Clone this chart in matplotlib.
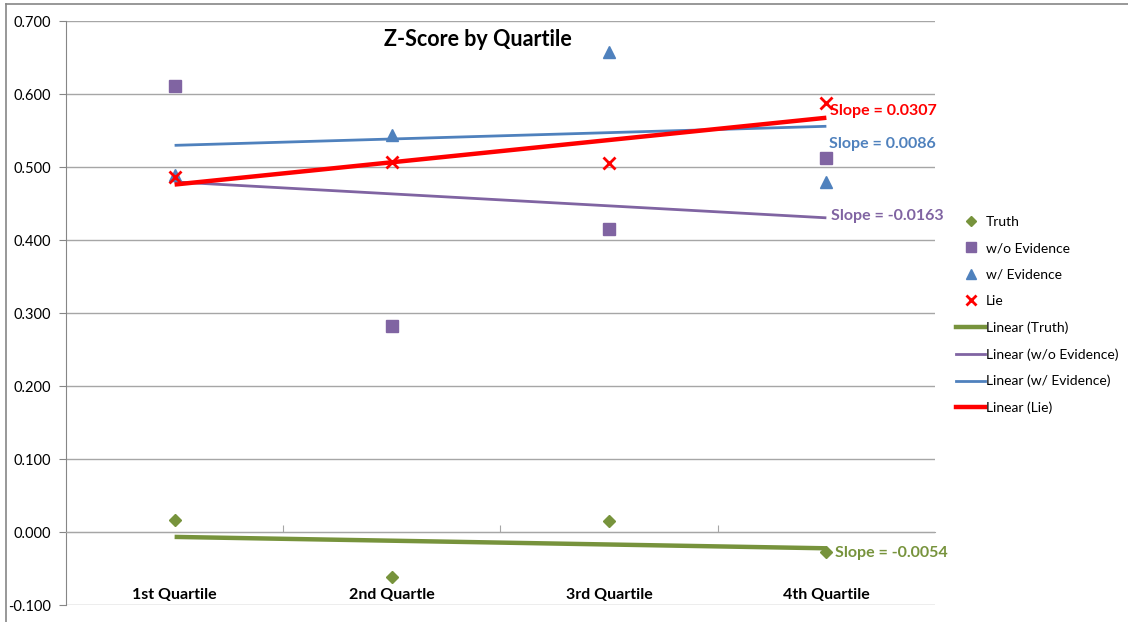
import numpy as np
import matplotlib
matplotlib.use("Agg")
import matplotlib.pyplot as plt
from matplotlib.lines import Line2D

plt.rcParams['font.family'] = ['Lato', 'DejaVu Sans']

# values
quartiles = ['1st Quartile', '2nd Quartle', '3rd Quartile', '4th Quartile']
truth = [0.016, -0.062, 0.015, -0.027]
wo_evidence = [0.611, 0.282, 0.415, 0.512]
w_evidence = [0.489, 0.544, 0.658, 0.480]
lie = [0.486, 0.507, 0.506, 0.588]

green = '#77933C'
purple = '#8064A2'
blue = '#4F81BD'
red = '#FF0000'

x = np.arange(1, len(quartiles) + 1)

fig = plt.figure(figsize=(11.28, 6.22), dpi=100)
ax = fig.add_axes([0.0585, 0.0273, 0.7704, 0.9389])

# scatter points
ax.plot(x, truth, linestyle='none', marker='D', ms=6, color=green, zorder=5)
ax.plot(x, wo_evidence, linestyle='none', marker='s', ms=8, color=purple, zorder=5)
ax.plot(x, w_evidence, linestyle='none', marker='^', ms=8.5, color=blue, zorder=5)
ax.plot(x, lie, linestyle='none', marker='x', ms=8, mew=2, color=red, zorder=5)

# linear trend lines
series = [(truth, green, 3.2), (wo_evidence, purple, 2), (w_evidence, blue, 2), (lie, red, 3.2)]
for vals, col, lw in series:
    m, b = np.polyfit(x, vals, 1)
    xx = np.array([x[0], x[-1]])
    ax.plot(xx, m * xx + b, color=col, lw=lw, solid_capstyle='butt', zorder=4)

# slope labels
ax.text(4.016, 0.577, 'Slope = %.4f' % 0.0307, color=red, fontsize=11.5, fontweight='bold', va='center')
ax.text(4.01, 0.532, 'Slope = %.4f' % 0.0086, color=blue, fontsize=11.5, fontweight='bold', va='center')
ax.text(4.02, 0.433, 'Slope = %.4f' % -0.0163, color=purple, fontsize=11.5, fontweight='bold', va='center')
ax.text(4.04, -0.0288, 'Slope = %.4f' % -0.0054, color=green, fontsize=11.5, fontweight='bold', va='center')

# axes
ax.set_xlim(0.5, 4.5)
ax.set_ylim(-0.1, 0.7)
ax.set_yticks(np.arange(-0.1, 0.71, 0.1))
ax.yaxis.set_major_formatter(matplotlib.ticker.FormatStrFormatter('%.3f'))
ax.tick_params(axis='y', labelsize=10.5, color='#868686', length=5, pad=6)
ax.grid(axis='y', color='#A6A6A6', lw=1)
ax.set_axisbelow(True)

ax.spines['top'].set_visible(False)
ax.spines['right'].set_visible(False)
ax.spines['left'].set_color('#868686')
ax.spines['bottom'].set_position(('data', 0))
ax.spines['bottom'].set_color('#A6A6A6')
ax.set_xticks([1.5, 2.5, 3.5])
ax.tick_params(axis='x', direction='in', length=5, color='#A6A6A6', labelbottom=False)

for xi, lab in zip(x, quartiles):
    ax.text(xi, -0.086, lab, ha='center', va='center', fontsize=11.5, fontweight='bold')

fig.text(0.4238, 0.9357, 'Z-Score by Quartile', ha='center', va='center', fontsize=15.5, fontweight='bold')

# legend
handles = [
    Line2D([], [], linestyle='none', marker='D', ms=5, color=green),
    Line2D([], [], linestyle='none', marker='s', ms=7, color=purple),
    Line2D([], [], linestyle='none', marker='^', ms=7, color=blue),
    Line2D([], [], linestyle='none', marker='x', ms=7, mew=2, color=red),
    Line2D([], [], color=green, lw=3.2),
    Line2D([], [], color=purple, lw=2),
    Line2D([], [], color=blue, lw=2),
    Line2D([], [], color=red, lw=3.2),
]
labels = ['Truth', 'w/o Evidence', 'w/ Evidence', 'Lie', 'Linear (Truth)',
          'Linear (w/o Evidence)', 'Linear (w/ Evidence)', 'Linear (Lie)']
fig.legend(handles, labels, loc='upper left', bbox_to_anchor=(956 / 1128, 1 - 216 / 622),
           frameon=False, fontsize=10, handlelength=2.1, handletextpad=0.05,
           labelspacing=1.03, borderpad=0, borderaxespad=0)

# chart border
fig.add_artist(Line2D([6 / 1128, 6 / 1128], [0, 1 - 4 / 622], color='#868686', lw=1.2))
fig.add_artist(Line2D([6 / 1128, 1], [1 - 4 / 622, 1 - 4 / 622], color='#868686', lw=1.2))

fig.savefig('out.png', dpi=100)
